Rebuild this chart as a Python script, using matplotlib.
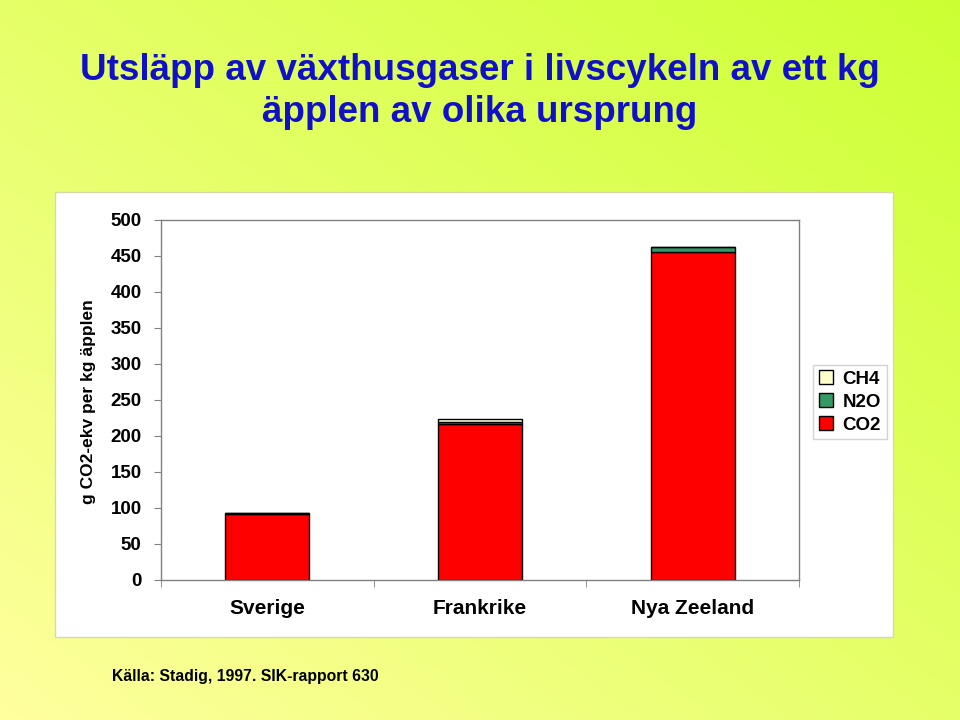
import matplotlib.pyplot as plt
import numpy as np
from matplotlib.patches import Rectangle

# Data (g CO2-ekv per kg äpplen)
countries = ["Sverige", "Frankrike", "Nya Zeeland"]
co2 = [92, 217, 455]
n2o = [1, 3, 7]
ch4 = [0.5, 4, 0.5]
yticks = [0, 50, 100, 150, 200, 250, 300, 350, 400, 450, 500]

plt.rcParams['font.family'] = ['Liberation Sans', 'DejaVu Sans']

fig = plt.figure(figsize=(9.6, 7.2), dpi=100)

# Gradient background: light yellow bottom-left -> yellow-green top-right
bg = fig.add_axes([0, 0, 1, 1], zorder=-10)
nx, ny = 200, 150
xx, yy = np.meshgrid(np.linspace(0, 1, nx), np.linspace(0, 1, ny))
t = np.clip((xx + yy) / 2.0, 0, 1)
c0 = np.array([1.0, 1.0, 0.62])   # bottom-left
c1 = np.array([0.80, 1.0, 0.20])  # top-right
img = c0[None, None, :] * (1 - t[..., None]) + c1[None, None, :] * t[..., None]
bg.imshow(img, origin='lower', extent=[0, 1, 0, 1], aspect='auto')
bg.set_axis_off()

# White chart panel
fig.patches.append(Rectangle((55 / 960, 1 - 637 / 720), (893 - 55) / 960, (637 - 192) / 720,
                             transform=fig.transFigure, facecolor='white',
                             edgecolor='#d8d8b0', linewidth=1, zorder=-5))

# Title
fig.text(0.5, 1 - 70 / 720, "Utsläpp av växthusgaser i livscykeln av ett kg",
         ha='center', va='center', fontsize=26.5, fontweight='bold', color='#1010c8')
fig.text(0.5, 1 - 113 / 720, "äpplen av olika ursprung",
         ha='center', va='center', fontsize=26.5, fontweight='bold', color='#1010c8')

ax = fig.add_axes([161 / 960, 1 - 580 / 720, (799 - 161) / 960, (580 - 220) / 720])
x = np.arange(len(countries))
w = 0.395
co2_a = np.array(co2, dtype=float)
n2o_a = np.array(n2o, dtype=float)
ch4_a = np.array(ch4, dtype=float)
b1 = ax.bar(x, co2_a, w, color='#ff0000', edgecolor='black', linewidth=1, label='CO2')
b2 = ax.bar(x, n2o_a, w, bottom=co2_a, color='#339966', edgecolor='black', linewidth=1, label='N2O')
b3 = ax.bar(x, ch4_a, w, bottom=co2_a + n2o_a, color='#ffffcc', edgecolor='black', linewidth=1, label='CH4')

ax.set_xlim(-0.5, len(countries) - 0.5)
ax.set_ylim(0, 500)
ax.set_yticks(yticks)
ax.set_yticklabels([str(v) for v in yticks], fontsize=13.5, fontweight='bold')
ax.set_xticks(x)
ax.set_xticklabels(countries, fontsize=15, fontweight='bold')
ax.tick_params(axis='x', length=0, pad=14)
ax.tick_params(axis='y', length=5, color='#808080', pad=9, direction='out')
ax.set_xticks(np.arange(-0.5, len(countries), 1.0), minor=True)
ax.tick_params(axis='x', which='minor', length=5, color='#808080', direction='out')
for s in ax.spines.values():
    s.set_color('#808080')
    s.set_linewidth(1)
ax.set_facecolor('white')

fig.text(88 / 960, 1 - 402 / 720, "g CO2-ekv per kg äpplen", rotation=90,
         ha='center', va='center', fontsize=12.5, fontweight='bold')

handles = [b3, b2, b1]
leg = fig.legend(handles, ["CH4", "N2O", "CO2"], loc='center',
                 bbox_to_anchor=(850 / 960, 1 - 402 / 720),
                 prop={'size': 13.5, 'weight': 'bold'},
                 frameon=True, fancybox=False, edgecolor='#c8c8c8',
                 handlelength=0.75, handleheight=0.75, handletextpad=0.5,
                 labelspacing=0.3, borderpad=0.3, borderaxespad=0)
leg.get_frame().set_linewidth(1)

fig.text(112 / 960, 1 - 676 / 720, "Källa: Stadig, 1997. SIK-rapport 630",
         ha='left', va='center', fontsize=11.3, fontweight='bold')

fig.savefig("out.png", dpi=100)
